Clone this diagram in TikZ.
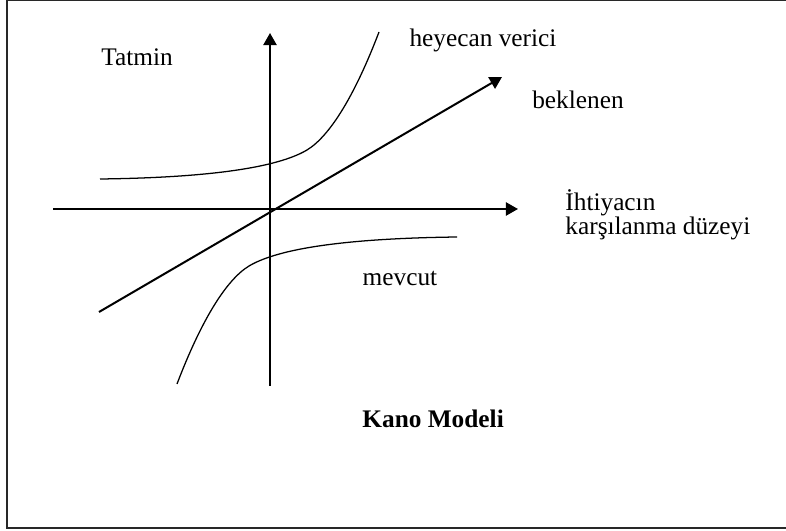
\documentclass[tikz,border=0pt]{standalone}
\usepackage{fontspec}
\setmainfont{Liberation Serif}
\usetikzlibrary{arrows.meta, positioning}
\definecolor{framecolor}{RGB}{40, 40, 40}
\tikzset{
  axis/.style={-{Triangle[length=5.7pt, width=6.2pt]}, line width=0.95pt, black},
  curve/.style={line width=0.6pt, black},
  label/.style={font=\fontsize{12}{11.5}\selectfont, inner sep=0pt},
  title/.style={font=\fontsize{12}{14}\selectfont\bfseries, inner sep=0pt}
}

\begin{document}
\begin{tikzpicture}[x=0.474pt, y=-0.474pt]

  % ── Frame ──────────────────────────────────────────────────────
  \useasboundingbox (0,0) rectangle (786,531);
  \draw[line width=0.95pt, framecolor] (7,-0.4) rectangle (800,528);

  % ── Axes ───────────────────────────────────────────────────────
  \coordinate (origin) at (270,209);
  \coordinate (xstart) at (53,209);
  \coordinate (xend)   at (518,209);
  \coordinate (ystart) at (270,386);
  \coordinate (yend)   at (270,33);
  \draw[axis] (xstart) -- (xend);
  \draw[axis] (ystart) -- (yend);

  % ── Expected (linear) ──────────────────────────────────────────
  \coordinate (bstart) at (99,312);
  \coordinate (bend)   at (502,77);
  \draw[axis] (bstart) -- (bend);

  % ── Exciting curve (upper) ─────────────────────────────────────
  \coordinate (hstart) at (100,179);
  \coordinate (hmid)   at (307,150);
  \coordinate (hend)   at (379,32);
  \draw[curve] (hstart) .. controls (180,178) and (270,172) .. (hmid)
    .. controls (330,136) and (355,95) .. (hend);

  % ── Must-be curve (lower) ──────────────────────────────────────
  \coordinate (mstart) at (457,237);
  \coordinate (mmid)   at (249,266);
  \coordinate (mend)   at (177,384);
  \draw[curve] (mstart) .. controls (376,238) and (286,244) .. (mmid)
    .. controls (226,280) and (201,321) .. (mend);

  % ── Labels ─────────────────────────────────────────────────────
  \node[label] (tatmin)   at (137,57)  {Tatmin};
  \node[label] (heyecan)  at (483,40)  {heyecan verici};
  \node[label] (beklenen) at (578,100) {beklenen};
  \node[label, align=left, anchor=west] (ihtiyac) at (565,215)
    {İhtiyacın\\karşılanma düzeyi};
  \node[label] (mevcut)   at (400,278) {mevcut};
  \node[title, anchor=west] (kano) at (362,419) {Kano Modeli};

\end{tikzpicture}
\end{document}
